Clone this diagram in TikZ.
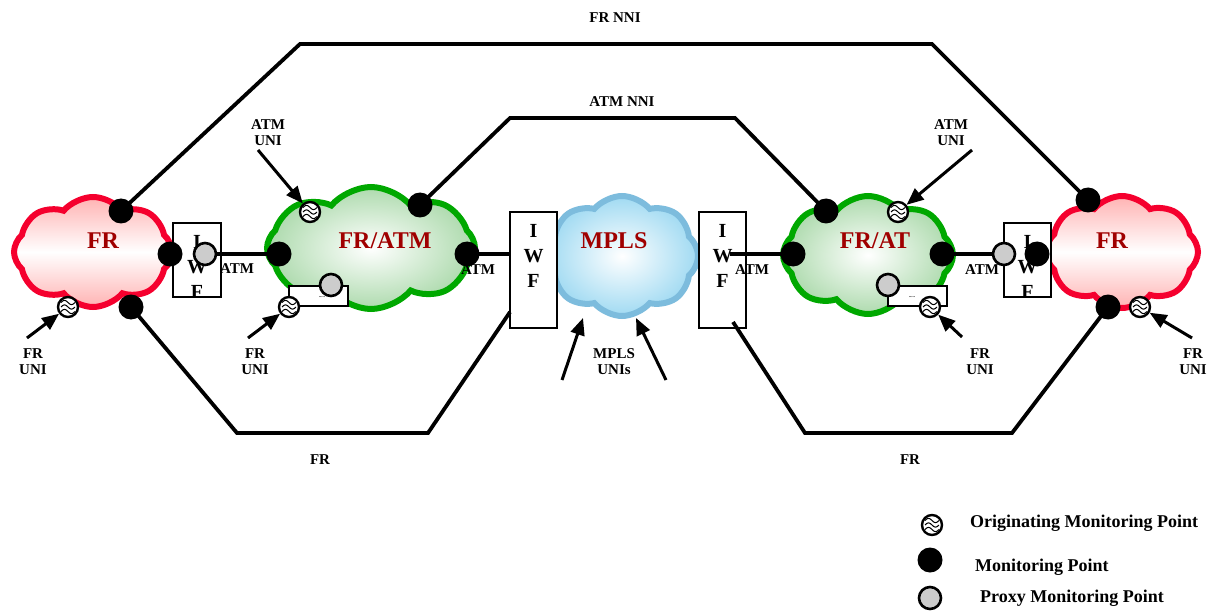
\documentclass[tikz,border=0pt]{standalone}
\usepackage{fontspec}
\setmainfont{Liberation Serif}
\usetikzlibrary{shapes.symbols,arrows.meta,calc}
\definecolor{frred}{HTML}{F5002E}
\definecolor{atmgreen}{HTML}{00A800}
\definecolor{mplsblue}{HTML}{7DBCDD}
\definecolor{mplsfill}{RGB}{160,218,242}
\definecolor{lbl}{HTML}{A00000}
\tikzset{
  lab/.style={font=\bfseries\fontsize{15}{16}\selectfont, align=center, inner sep=0},
  cloudlab/.style={font=\bfseries\fontsize{24}{26}\selectfont, text=lbl, inner sep=0},
  leg/.style={font=\bfseries\fontsize{18}{20}\selectfont, anchor=west, inner sep=0},
  conn/.style={line width=3.8pt},
  arr/.style={line width=3pt, -{Triangle[length=17pt,width=14pt]}, shorten >=0pt},
  mpt/.style={circle, fill=black, minimum size=25pt, inner sep=0},
  ppt/.style={circle, fill=black!20, draw=black, line width=2.6pt, minimum size=22pt, inner sep=0},
  opt/.style={circle, fill=white, draw=black, line width=2.4pt, minimum size=20pt, inner sep=0,
    path picture={\begin{scope}[shift={(path picture bounding box.center)}]
      \foreach \yy in {-4.5,0,4.5}
        \draw[line width=1pt] (-7,\yy) sin (-3.5,\yy-2.2) cos (0,\yy) sin (3.5,\yy+2.2) cos (7,\yy);
      \end{scope}}},
  netcloud/.style={cloud, cloud puffs=8, cloud puff arc=100, cloud ignores aspect, line width=6pt, inner sep=0},
  iwfbox/.style={draw=black, fill=white, line width=2.6pt, inner sep=0},
  iwftext/.style={font=\bfseries\fontsize{20}{25}\selectfont, align=center, inner sep=0},
  innerbox/.style={draw=black, fill=white, line width=2.4pt, inner sep=0},
}
\begin{document}
\begin{tikzpicture}[x=1pt,y=-1pt]
\useasboundingbox (0,0) rectangle (1214,612);
% clouds
\node[netcloud, draw=frred, top color=red!30, bottom color=red!30, middle color=white,
  minimum width=158pt, minimum height=110pt] (frL) at (93,252) {};
\node[netcloud, draw=atmgreen, inner color=white, outer color=green!55!black!32,
  minimum width=208pt, minimum height=122pt] (atmL) at (371,248) {};
\node[netcloud, draw=mplsblue, inner color=white, outer color=mplsfill,
  minimum width=152pt, minimum height=120pt] (mpls) at (622,256) {};
\node[netcloud, draw=atmgreen, inner color=white, outer color=green!55!black!32,
  minimum width=170pt, minimum height=118pt] (atmR) at (868,255) {};
\node[netcloud, draw=frred, top color=red!30, bottom color=red!30, middle color=white,
  minimum width=152pt, minimum height=112pt] (frR) at (1122,252) {};
\node[cloudlab] (tfrL) at (103,241) {FR};
\node[cloudlab] (tatmL) at (385,241) {FR/ATM};
\node[cloudlab] (tmpls) at (614,241) {MPLS};
\node[cloudlab] (tatmR) at (875,241) {FR/AT};
\node[cloudlab] (tfrR) at (1112,241) {FR};
% IWF boxes
\node[iwfbox, minimum width=48pt, minimum height=74pt] (iwfA) at (197,260) {};
\begin{scope}
  \clip (173,223) rectangle (221,297);
  \node[iwftext] (tiwfA) at (197,267) {I\\W\\F};
\end{scope}
\node[iwfbox, minimum width=47pt, minimum height=116pt] (iwfB) at (533.5,270) {};
\node[iwftext] (tiwfB) at (533.5,256) {I\\W\\F};
\node[iwfbox, minimum width=47pt, minimum height=116pt] (iwfC) at (722.5,270) {};
\node[iwftext] (tiwfC) at (722.5,256) {I\\W\\F};
\node[iwfbox, minimum width=47pt, minimum height=74pt] (iwfD) at (1027.5,260) {};
\begin{scope}
  \clip (1004,223) rectangle (1051,297);
  \node[iwftext] (tiwfD) at (1027.5,267) {I\\W\\F};
\end{scope}
% inner boxes
\node[innerbox, minimum width=59pt, minimum height=20pt] (ibL) at (318.5,296) {};
\node[font=\bfseries\tiny, inner sep=0] (ibLt) at (322,297) {.....};
\node[innerbox, minimum width=59pt, minimum height=20pt] (ibR) at (917.5,296) {};
\node[font=\bfseries\tiny, inner sep=0] (ibRt) at (912,297) {.....};
% connector coordinates
\coordinate (n1) at (300,44); \coordinate (n2) at (932,44);
\coordinate (a1) at (510,118); \coordinate (a2) at (735,118);
\coordinate (f1) at (237,433); \coordinate (f2) at (428,433); \coordinate (f3) at (510,312);
\coordinate (f4) at (733,322); \coordinate (f5) at (805,433); \coordinate (f6) at (1012,433);
\coordinate (c1) at (730,254);
\coordinate (c2) at (510,254);
% monitoring point positions
\coordinate (p1) at (121,211);
\coordinate (p3) at (131,307);
\coordinate (p4) at (279,254);
\coordinate (p5) at (420,205);
\coordinate (p6) at (467,254);
\coordinate (p7) at (826,211);
\coordinate (p8) at (793,254);
\coordinate (p9) at (942,254);
\coordinate (p10) at (1088,200);
\coordinate (p12) at (1108,307);
\coordinate (q1) at (205,254);
\coordinate (q4) at (1004,254);
% connectors
\draw[conn] (p1) -- (n1) -- (n2) -- (p10);
\draw[conn] (p5) -- (a1) -- (a2) -- (p7);
\draw[conn] (p3) -- (f1) -- (f2) -- (f3);
\draw[conn] (f4) -- (f5) -- (f6) -- (p12);
\draw[conn] (q1) -- (p4);
\draw[conn] (p6) -- (c2);
\draw[conn] (c1) -- (p8);
\draw[conn] (p9) -- (q4);
% points
\node[mpt] (b1) at (p1) {};
\node[mpt] (b2) at (170,254) {};
\node[mpt] (b3) at (p3) {};
\node[mpt] (b4) at (p4) {};
\node[mpt] (b5) at (p5) {};
\node[mpt] (b6) at (p6) {};
\node[mpt] (b7) at (p7) {};
\node[mpt] (b8) at (p8) {};
\node[mpt] (b9) at (p9) {};
\node[mpt] (b10) at (p10) {};
\node[mpt] (b11) at (1037,254) {};
\node[mpt] (b12) at (p12) {};
\node[ppt] (g1) at (q1) {};
\node[ppt] (g2) at (331,285) {};
\node[ppt] (g3) at (888,285) {};
\node[ppt] (g4) at (q4) {};
\node[opt] (o1) at (68,307) {};
\node[opt] (o2) at (310,212) {};
\node[opt] (o3) at (289,307) {};
\node[opt] (o4) at (898,212) {};
\node[opt] (o5) at (930,307) {};
\node[opt] (o6) at (1140,307) {};
% arrows
\coordinate (s1) at (27,338);
\coordinate (s2) at (248,338);
\coordinate (s3) at (258,150);
\coordinate (s4) at (972,150);
\coordinate (s5) at (962,337);
\coordinate (s6) at (1192,338);
\coordinate (s7) at (562,380);
\coordinate (s8) at (666,380);
\coordinate (m1) at (583,318);
\coordinate (m2) at (636,318);
\draw[arr] (s1) -- (o1);
\draw[arr] (s2) -- (o3);
\draw[arr] (s3) -- (o2);
\draw[arr] (s4) -- (o4);
\draw[arr] (s5) -- (o5);
\draw[arr] (s6) -- (o6);
\draw[arr] (s7) -- (m1);
\draw[arr] (s8) -- (m2);
% labels
\node[lab] (lfrnni) at (615,18) {FR NNI};
\node[lab] (latmnni) at (622,102) {ATM NNI};
\node[lab] (lau1) at (268,133) {ATM\\UNI};
\node[lab] (lau2) at (951,133) {ATM\\UNI};
\node[lab] (lfu1) at (33,362) {FR\\UNI};
\node[lab] (lfu2) at (255,362) {FR\\UNI};
\node[lab] (lfu3) at (980,362) {FR\\UNI};
\node[lab] (lfu4) at (1193,362) {FR\\UNI};
\node[lab] (lmpls) at (614,362) {MPLS\\UNIs};
\node[lab] (lfr1) at (320,460) {FR};
\node[lab] (lfr2) at (910,460) {FR};
\node[lab] (latm1) at (237,269) {ATM};
\node[lab] (latm2) at (478,270) {ATM};
\node[lab] (latm3) at (752,270) {ATM};
\node[lab] (latm4) at (982,270) {ATM};
% legend
\node[opt] (lo) at (932,525) {};
\node[mpt] (lb) at (930,560) {};
\node[ppt] (lg) at (930,598) {};
\node[leg] (lt1) at (970,523) {Originating Monitoring Point};
\node[leg] (lt2) at (975,567) {Monitoring Point};
\node[leg] (lt3) at (980,598) {Proxy Monitoring Point};
\end{tikzpicture}
\end{document}
